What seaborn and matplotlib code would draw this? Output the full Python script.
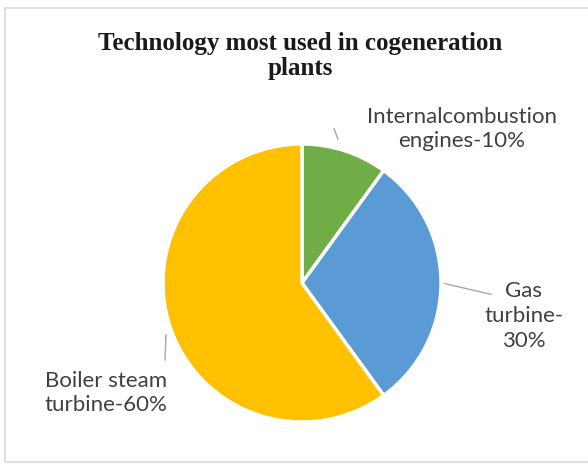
"""Pie chart: technology most used in cogeneration plants."""
import matplotlib
matplotlib.use("Agg")
import matplotlib.pyplot as plt
from matplotlib.patches import Rectangle
import seaborn as sns

technologies = ["Internal combustion engines", "Gas turbine", "Boiler steam turbine"]
shares = [10, 30, 60]
label_names = ["Internalcombustion\nengines-", "Gas\nturbine-\n", "Boiler steam\nturbine-"]
colors = ["#70AD47", "#5B9BD5", "#FFC000"]

W, H = 588, 469


def main():
    sns.set_style("white")
    plt.rcParams["font.family"] = ["Lato", "DejaVu Sans"]

    fig = plt.figure(figsize=(W / 100, H / 100), dpi=100)
    ax = fig.add_axes([0, 0, 1, 1])
    ax.set_aspect("equal")
    ax.axis("off")

    # chart frame
    fig.patches.append(Rectangle((5 / W, 7 / H), 1.2, (H - 15) / H, transform=fig.transFigure,
                                 fill=False, edgecolor="#d9d9d9", linewidth=1.2))

    cx, cy, r = 302, H - 283, 139
    ax.pie(shares, colors=colors, startangle=90, counterclock=False,
           center=(cx, cy), radius=r,
           wedgeprops=dict(edgecolor="white", linewidth=2.5))
    ax.set_xlim(0, W)
    ax.set_ylim(0, H)

    ax.text(300, H - 56, "Technology most used in cogeneration\nplants", ha="center", va="center",
            family="Liberation Serif", fontweight="bold", fontsize=18, color="#1a1a1a",
            linespacing=1.1)

    txt = [f"{n}{s}%" for n, s in zip(label_names, shares)]
    label_pos = [(462, H - 129), (524, H - 316), (106, H - 393)]
    leaders = [((339, 142), (333, 126)),
               ((442, 283), (494, 295)),
               ((166, 332), (165, 363))]
    for t, (lx, ly), (p0, p1) in zip(txt, label_pos, leaders):
        ax.annotate("", xy=(p0[0], H - p0[1]), xytext=(p1[0], H - p1[1]),
                    arrowprops=dict(arrowstyle="-", color="#a6a6a6", lw=1))
        ax.text(lx, ly, t, ha="center", va="center", fontsize=16, color="#404040",
                linespacing=1.3)

    fig.savefig("out.png", dpi=100, facecolor="white")
    return 0


if __name__ == "__main__":
    raise SystemExit(main())
